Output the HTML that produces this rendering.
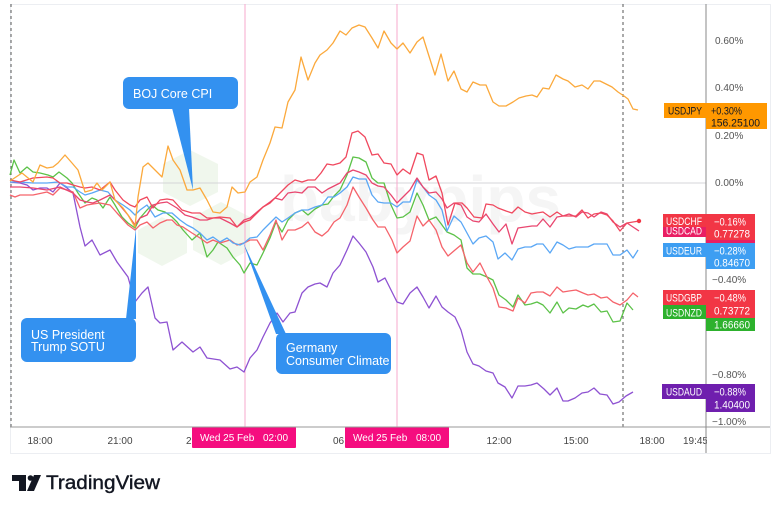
<!DOCTYPE html>
<html><head><meta charset="utf-8"><style>
html,body{margin:0;padding:0;background:#fff;}
svg{display:block;}
text{font-family:"Liberation Sans",sans-serif;}
</style></head><body>
<svg width="780" height="511" viewBox="0 0 780 511" xmlns="http://www.w3.org/2000/svg">
<rect width="780" height="511" fill="#fff"/>
<!-- frame -->
<rect x="10.5" y="4.5" width="760" height="449" fill="none" stroke="#eceef2" stroke-width="1"/>
<!-- watermark -->
<g fill="#f0f7ed">
<polygon points="190,150 218,164 218,192 190,206 163,192 163,164"/>
<polygon points="221,202 250,217 250,250 221,265 193,250 193,217"/>
<polygon points="162,217 187,230 187,253 162,266 138,253 138,230"/>
</g>
<text x="280" y="221" font-size="64" font-weight="bold" fill="#f5f5f5">babypips</text>
<!-- grid lines -->
<line x1="10" y1="183" x2="706" y2="183" stroke="#d4d4d8" stroke-width="1"/>
<line x1="245" y1="4" x2="245" y2="427" stroke="#f7a8cc" stroke-width="1"/>
<line x1="397" y1="4" x2="397" y2="427" stroke="#f7a8cc" stroke-width="1"/>
<line x1="11" y1="4" x2="11" y2="427" stroke="#555" stroke-width="1" stroke-dasharray="3,3"/>
<line x1="623" y1="4" x2="623" y2="427" stroke="#555" stroke-width="1" stroke-dasharray="3,3"/>
<!-- series -->
<g fill="none" stroke-width="1.3" stroke-linejoin="round">
<polyline stroke="#8e52d2" points="10,182 20,183 27,185 33,190 40,188 47,188 53,192 60,183 67,188 73,193 80,227 85,246 92,240 100,255 110,250 117,262 128,277 135,302 142,293 148,287 155,318 160,323 167,322 173,350 182,342 193,352 200,347 207,358 220,360 230,369 237,367 244,372 250,358 257,350 263,337 270,323 277,313 283,322 290,313 295,312 302,293 308,287 315,284 320,283 327,287 333,273 340,265 347,250 353,236 359,243 366,252 373,267 378,282 385,278 392,292 397,302 403,304 410,293 417,287 423,297 429,308 436,296 442,307 448,312 455,317 461,330 467,352 473,364 479,366 486,371 493,373 498,383 505,387 512,398 518,386 525,386 531,385 537,383 544,389 550,395 557,388 563,401 568,401 575,398 582,393 588,392 594,388 600,394 607,395 613,404 619,402 626,396 633,392"/>
<polyline stroke="#5cc248" points="10,175 14,160 20,173 27,167 33,172 40,173 48,175 53,177 59,172 67,178 72,183 78,193 85,203 92,198 97,200 103,208 110,197 115,205 122,217 128,223 135,228 140,218 147,210 152,205 158,210 165,212 172,217 177,222 183,230 192,240 200,233 207,257 213,250 218,242 227,248 233,257 240,265 244,273 250,263 257,265 263,253 270,238 276,222 282,232 288,220 295,213 302,210 308,215 315,209 322,205 328,204 334,196 340,190 347,175 353,157 359,158 366,162 372,178 378,183 384,183 391,205 397,218 403,217 410,212 417,193 423,205 429,220 436,217 442,225 447,232 454,235 461,240 467,268 473,274 480,274 487,277 493,280 499,295 506,300 513,307 518,295 525,305 531,304 537,302 543,305 550,313 557,302 563,313 569,308 576,309 583,305 588,307 594,304 601,312 607,311 613,322 620,321 627,303 633,310"/>
<polyline stroke="#f5636b" points="10,195 15,197 20,195 33,195 47,192 53,195 60,188 67,190 73,192 80,208 87,205 93,204 100,203 110,205 117,213 128,225 135,230 140,225 147,222 153,228 160,223 167,220 172,220 177,225 183,227 192,233 200,238 207,243 213,240 220,243 230,240 237,245 244,243 250,240 257,240 263,250 270,235 276,220 282,240 288,230 295,230 302,227 308,222 315,232 322,236 328,231 334,222 340,218 347,205 353,187 359,197 366,208 373,220 378,227 385,227 392,240 397,253 403,247 410,241 417,216 423,226 429,220 436,230 442,247 448,256 455,250 461,245 467,263 473,272 480,263 487,277 493,288 499,307 506,308 513,311 518,298 525,303 531,293 537,292 543,292 550,296 557,287 563,292 569,291 576,290 583,293 588,295 594,294 601,298 607,297 613,302 620,305 627,300 633,293 638,297"/>
<polyline stroke="#5aa7f5" points="10,182 20,182 33,183 47,183 58,182 67,187 73,187 80,192 85,195 92,193 100,190 108,192 115,200 123,205 130,210 135,215 140,210 147,205 155,217 163,213 172,213 180,220 187,225 193,228 200,233 207,240 213,237 220,242 227,238 233,243 240,245 244,243 250,238 257,237 263,230 270,223 276,217 282,222 288,218 295,213 302,210 308,210 315,207 322,205 328,197 334,197 340,193 347,187 353,177 359,179 366,179 372,195 378,202 384,203 391,203 397,207 403,202 410,202 417,180 423,187 429,195 436,200 442,210 447,231 454,216 461,222 467,233 473,244 479,238 486,236 493,242 498,259 505,253 512,260 518,249 525,247 531,247 537,244 543,244 550,253 557,242 563,245 569,249 576,247 583,247 588,247 594,244 601,244 607,244 613,255 620,255 627,250 633,258 638,250"/>
<polyline stroke="#e9466f" points="10,187 20,187 33,188 47,190 60,187 73,193 80,200 87,202 93,203 100,200 110,195 117,202 128,215 135,225 140,218 147,215 153,205 160,203 167,202 177,208 185,215 192,217 200,220 207,220 213,218 220,218 230,223 237,227 244,220 250,218 257,212 263,207 270,202 275,198 282,200 288,193 295,192 302,193 308,187 315,187 322,193 328,189 334,186 340,183 347,173 353,170 359,172 366,175 372,183 378,186 384,187 391,195 397,203 403,197 410,190 417,178 423,187 429,193 436,192 442,199 447,208 454,203 461,205 467,217 473,221 479,222 486,214 493,224 499,232 506,224 512,244 518,228 525,227 532,226 537,226 543,219 550,227 557,217 563,216 569,214 576,217 582,212 588,213 594,217 601,212 607,214 613,222 620,227 627,223 633,227 639,231"/>
<polyline stroke="#f0485e" points="10,180 20,182 33,178 47,177 53,178 60,183 67,183 73,185 80,187 85,188 92,187 100,190 110,182 115,190 123,200 130,205 135,207 140,200 147,197 153,208 160,200 167,199 173,200 182,210 192,213 200,213 207,218 213,218 220,217 230,218 237,227 244,222 250,220 257,213 263,207 270,203 275,198 280,193 288,185 295,180 302,182 308,180 315,180 321,173 327,164 333,165 340,163 346,157 352,133 358,131 365,137 372,155 378,154 384,163 391,164 397,175 403,169 410,174 417,153 423,155 429,180 436,176 442,193 448,225 455,203 462,203 467,208 474,217 482,218 486,204 493,205 498,208 506,211 512,213 518,207 525,212 532,214 537,213 543,212 550,217 557,212 563,216 569,216 576,216 582,210 588,218 594,214 601,213 607,215 613,221 620,231 627,223 633,222 639,221"/>
<polyline stroke="#fba93c" points="10,181 22,173 33,182 40,165 47,168 53,167 58,163 65,155 72,163 78,170 85,192 92,190 97,183 102,190 110,182 115,200 123,208 128,215 135,227 138,197 143,167 148,163 155,170 162,177 168,146 173,160 180,170 187,190 193,190 200,188 207,200 213,212 220,213 227,207 232,187 238,193 245,192 250,182 257,177 263,160 270,143 275,127 282,128 288,102 295,90 301,57 308,80 315,63 320,55 327,50 333,43 340,31 346,35 352,28 359,25 365,27 372,38 378,48 384,31 391,43 397,49 403,43 410,53 417,42 423,37 428,53 435,75 441,54 448,81 454,71 461,89 467,92 473,82 480,85 486,85 493,102 499,106 506,106 513,102 519,98 526,96 532,95 537,97 543,88 549,89 556,75 563,79 568,81 575,87 582,85 588,89 594,81 600,81 606,84 612,87 618,92 624,96 628,99 633,109 638,110"/>
</g>
<circle cx="639" cy="221" r="2.2" fill="#f23645"/>
<!-- callouts -->
<g fill="#3391f0">
<rect x="123" y="77" width="115" height="32" rx="6"/>
<polygon points="172,108 189,108 193,190"/>
<rect x="21" y="318" width="115" height="44" rx="6"/>
<polygon points="126,319 136,319 136,228"/>
<rect x="276" y="333" width="115" height="41" rx="6"/>
<polygon points="243,242 276,334 286,334"/>
</g>
<g fill="#fff" font-size="12.5">
<text x="133" y="98">BOJ Core CPI</text>
<text x="31" y="339">US President</text>
<text x="31" y="351">Trump SOTU</text>
<text x="286" y="352">Germany</text>
<text x="286" y="365">Consumer Climate</text>
</g>
<!-- bottom axis -->
<g font-size="10" fill="#444">
<text x="40" y="444" text-anchor="middle">18:00</text>
<text x="120" y="444" text-anchor="middle">21:00</text>
<text x="186" y="444">2</text>
<text x="333" y="444">06</text>
<text x="499" y="444" text-anchor="middle">12:00</text>
<text x="576" y="444" text-anchor="middle">15:00</text>
<text x="652" y="444" text-anchor="middle">18:00</text>
<text x="683" y="444">19:45</text>
</g>
<rect x="707" y="428" width="62" height="24" fill="#fff"/>
<rect x="192" y="427" width="104" height="21" rx="1" fill="#f50d7f"/>
<rect x="345" y="427" width="104" height="21" rx="1" fill="#f50d7f"/>
<g font-size="10" fill="#fff">
<text x="200" y="441">Wed 25 Feb</text><text x="263" y="441">02:00</text>
<text x="353" y="441">Wed 25 Feb</text><text x="416" y="441">08:00</text>
</g>
<line x1="10" y1="427" x2="770" y2="427" stroke="#9a9a9a" stroke-width="1"/>
<line x1="706" y1="4" x2="706" y2="453" stroke="#8a8a8a" stroke-width="1"/>
<!-- right axis -->
<g font-size="10" fill="#555">
<text x="715" y="44">0.60%</text>
<text x="715" y="91">0.40%</text>
<text x="715" y="139">0.20%</text>
<text x="715" y="186">0.00%</text>
<text x="712" y="283">−0.40%</text>
<text x="712" y="378">−0.80%</text>
<text x="712" y="425">−1.00%</text>
</g>
<!-- price labels -->
<g font-size="11">
<rect x="664" y="103" width="42" height="15" fill="#ff9800"/>
<text x="668" y="114.5" fill="#131722" textLength="34" lengthAdjust="spacingAndGlyphs">USDJPY</text>
<rect x="706" y="103" width="61" height="26" fill="#ff9800"/>
<text x="711" y="114.5" fill="#131722" textLength="31" lengthAdjust="spacingAndGlyphs">+0.30%</text>
<text x="711" y="126.5" fill="#131722" textLength="49" lengthAdjust="spacingAndGlyphs">156.25100</text>

<rect x="663" y="223" width="43" height="14" fill="#e91e63"/>
<text x="666" y="234.5" fill="#fff" textLength="36" lengthAdjust="spacingAndGlyphs">USDCAD</text>
<rect x="706" y="232" width="49" height="14" fill="#e91e63"/>
<rect x="663" y="214" width="43" height="13" fill="#f23645"/>
<text x="666" y="225" fill="#fff" textLength="36" lengthAdjust="spacingAndGlyphs">USDCHF</text>
<rect x="706" y="214" width="49" height="26" fill="#f23645"/>
<text x="714" y="225.5" fill="#fff" textLength="32" lengthAdjust="spacingAndGlyphs">−0.16%</text>
<text x="714" y="237.5" fill="#fff" textLength="36" lengthAdjust="spacingAndGlyphs">0.77278</text>

<rect x="663" y="243" width="43" height="14" fill="#3d9ef2"/>
<text x="666" y="254.5" fill="#fff" textLength="36" lengthAdjust="spacingAndGlyphs">USDEUR</text>
<rect x="706" y="243" width="49" height="26" fill="#3d9ef2"/>
<text x="714" y="254.5" fill="#fff" textLength="32" lengthAdjust="spacingAndGlyphs">−0.28%</text>
<text x="714" y="266.5" fill="#fff" textLength="36" lengthAdjust="spacingAndGlyphs">0.84670</text>

<rect x="663" y="290" width="43" height="15" fill="#f23645"/>
<text x="666" y="301.5" fill="#fff" textLength="36" lengthAdjust="spacingAndGlyphs">USDGBP</text>
<rect x="663" y="305" width="43" height="14" fill="#2db12d"/>
<text x="666" y="316.5" fill="#fff" textLength="36" lengthAdjust="spacingAndGlyphs">USDNZD</text>
<rect x="706" y="290" width="49" height="28" fill="#f23645"/>
<text x="714" y="301.5" fill="#fff" textLength="32" lengthAdjust="spacingAndGlyphs">−0.48%</text>
<text x="714" y="314.5" fill="#fff" textLength="36" lengthAdjust="spacingAndGlyphs">0.73772</text>
<rect x="706" y="318" width="49" height="13" fill="#2db12d"/>
<text x="714" y="328.5" fill="#fff" textLength="36" lengthAdjust="spacingAndGlyphs">1.66660</text>

<rect x="662" y="384" width="44" height="15" fill="#6f1fae"/>
<text x="666" y="395.5" fill="#fff" textLength="36" lengthAdjust="spacingAndGlyphs">USDAUD</text>
<rect x="706" y="384" width="49" height="28" fill="#6f1fae"/>
<text x="714" y="395.5" fill="#fff" textLength="32" lengthAdjust="spacingAndGlyphs">−0.88%</text>
<text x="714" y="408.5" fill="#fff" textLength="36" lengthAdjust="spacingAndGlyphs">1.40400</text>
</g>
<!-- TradingView logo -->
<g fill="#131722">
<rect x="12" y="475" width="14" height="6"/>
<rect x="19" y="475" width="7" height="16"/>
<circle cx="30.5" cy="478" r="2.8"/>
<polygon points="34,475 41,475 34,491 27,491"/>
</g>
<text x="46" y="489" font-size="19" fill="#131722" stroke="#131722" stroke-width="0.4" textLength="114" lengthAdjust="spacingAndGlyphs">TradingView</text>
</svg>
</body></html>
